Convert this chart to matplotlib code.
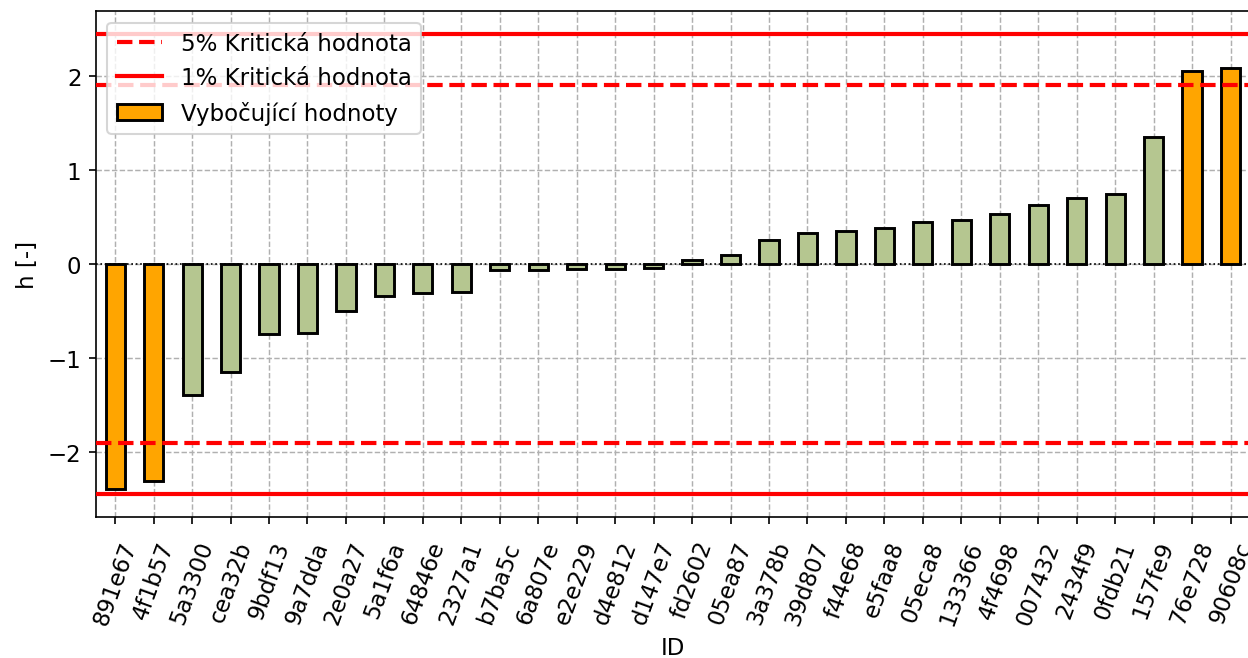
import matplotlib
matplotlib.use("Agg")
import matplotlib.pyplot as plt
from matplotlib.lines import Line2D
from matplotlib.patches import Patch

# data
ids = ["891e67", "4f1b57", "5a3300", "cea32b", "9bdf13", "9a7dda", "2e0a27", "5a1f6a",
       "64846e", "2327a1", "b7ba5c", "6a807e", "e2e229", "d4e812", "d147e7", "fd2602",
       "05ea87", "3a378b", "39d807", "f44e68", "e5faa8", "05eca8", "133366", "4f4698",
       "007432", "2434f9", "0fdb21", "157fe9", "76e728", "90608c"]
h = [-2.40, -2.305, -1.39, -1.155, -0.745, -0.735, -0.505, -0.345,
     -0.31, -0.30, -0.065, -0.065, -0.058, -0.055, -0.043, 0.045,
     0.098, 0.255, 0.333, 0.354, 0.386, 0.443, 0.464, 0.528,
     0.628, 0.705, 0.748, 1.35, 2.057, 2.085]
crit_5 = 1.905
crit_1 = 2.445

green = "#b5c690"
orange = "#ffa500"

plt.rcParams["font.size"] = 11

fig = plt.figure(figsize=(8.32, 4.393), dpi=150)
ax = fig.add_axes([0.0769, 0.2144, 0.9245, 0.7674])

x = list(range(len(ids)))
colors = [orange if abs(v) > crit_5 else green for v in h]
ax.bar(x, h, width=0.5, color=colors, edgecolor="black", linewidth=1.4, zorder=3)

ax.axhline(crit_5, color="red", linestyle="--", linewidth=2, zorder=4)
ax.axhline(-crit_5, color="red", linestyle="--", linewidth=2, zorder=4)
ax.axhline(crit_1, color="red", linestyle="-", linewidth=2, zorder=4)
ax.axhline(-crit_1, color="red", linestyle="-", linewidth=2, zorder=4)
ax.axhline(0, color="black", linestyle=":", linewidth=0.8, zorder=2)

ax.set_xlim(-0.5, len(ids) - 0.5)
ax.set_ylim(-2.69, 2.69)
ax.set_xticks(x)
ax.set_xticklabels(ids, rotation=70)
ax.tick_params(axis="x", pad=6.5)
ax.set_yticks([-2, -1, 0, 1, 2])
ax.set_xlabel("ID")
ax.set_ylabel("h [-]")
ax.grid(True, linestyle="--", color="#b0b0b0", linewidth=0.7, zorder=0)
ax.set_axisbelow(True)

handles = [
    Line2D([0], [0], color="red", linestyle="--", linewidth=2),
    Line2D([0], [0], color="red", linestyle="-", linewidth=2),
    Patch(facecolor=orange, edgecolor="black", linewidth=1.4),
]
labels = ["5% Kritická hodnota", "1% Kritická hodnota", "Vybočující hodnoty"]
ax.legend(handles, labels, loc="upper left")

fig.savefig("out.png", dpi=150)
